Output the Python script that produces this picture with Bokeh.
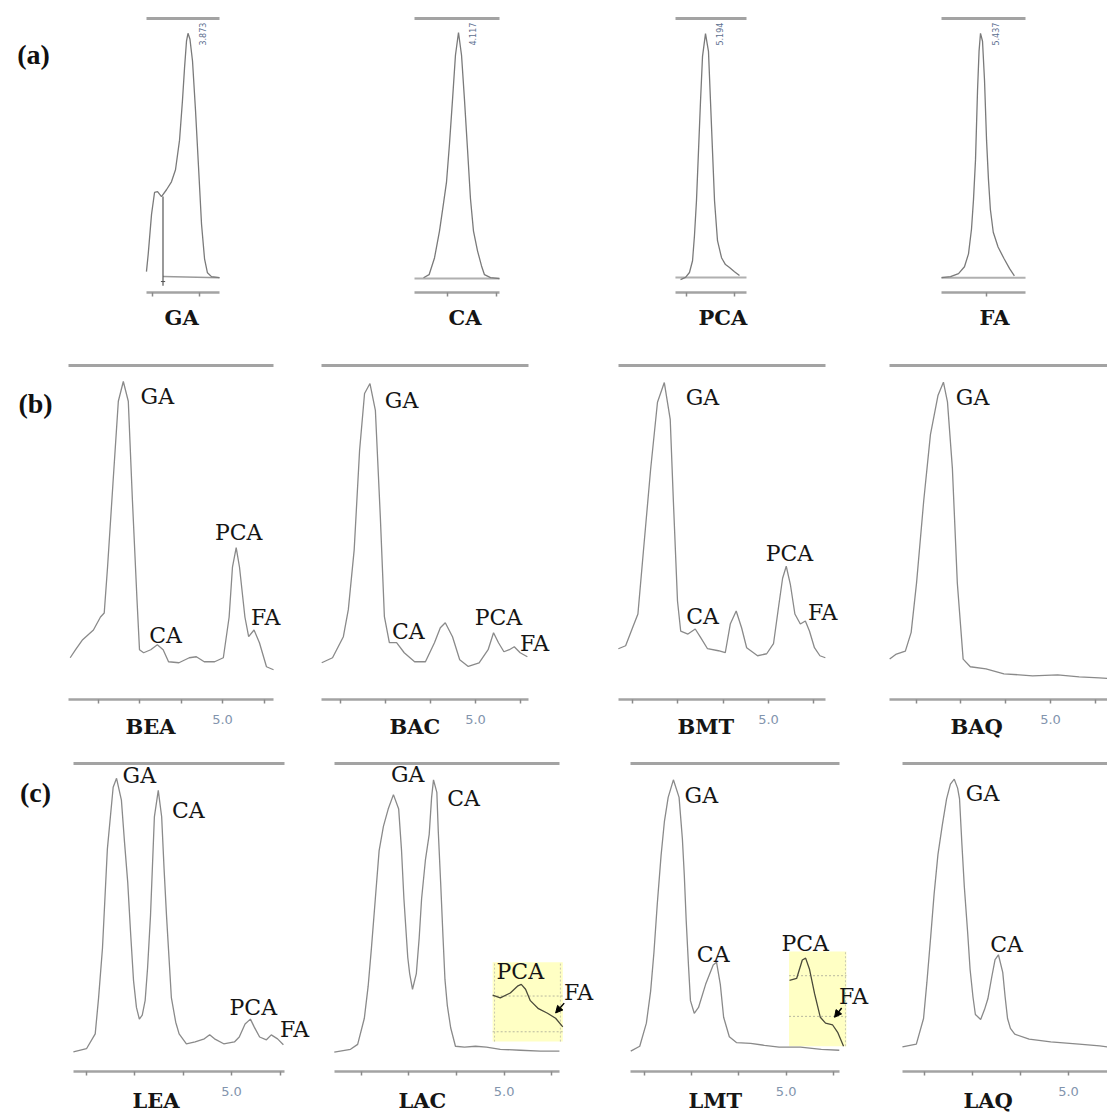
import math
from bokeh.plotting import figure
from bokeh.layouts import column, row
from bokeh.models import LinearAxis, FixedTicker, Label, Arrow, NormalHead, Range1d, Title
from bokeh.embed import file_html
from bokeh.resources import INLINE

# ---------------- (a) standards : retention time (min) / relative intensity ----------------
GA_std_t = [3.431, 3.45, 3.485, 3.517, 3.549, 3.591, 3.644, 3.697, 3.74, 3.783, 3.814, 3.836, 3.857,
            3.873, 3.894, 3.921, 3.953, 3.985, 4.017, 4.049, 4.08, 4.123, 4.208]
GA_std_I = [7.6, 14.1, 28.5, 36.5, 36.8, 35.0, 37.5, 40.4, 44.8, 55.6, 70.0, 81.9, 91.7,
            94.6, 92.4, 84.5, 66.4, 45.8, 24.9, 12.3, 7.2, 5.8, 5.4]
CA_std_t = [3.76, 3.817, 3.872, 3.923, 3.964, 3.995, 4.025, 4.056, 4.086, 4.117, 4.148, 4.178, 4.209,
            4.239, 4.27, 4.311, 4.352, 4.382, 4.444, 4.535]
CA_std_I = [5.4, 6.5, 12.6, 22.4, 32.5, 40.4, 54.2, 70.4, 86.6, 94.9, 86.6, 70.4, 52.3,
            34.3, 22.4, 15.2, 9.7, 6.5, 5.4, 5.1]
PCA_std_t = [4.934, 4.986, 5.027, 5.059, 5.079, 5.1, 5.121, 5.142, 5.163, 5.194, 5.225, 5.246, 5.267,
             5.288, 5.319, 5.361, 5.402, 5.444, 5.496, 5.548]
PCA_std_I = [4.7, 5.5, 7.3, 11.6, 20.7, 33.5, 51.6, 69.8, 86.2, 94.5, 88.0, 69.8, 51.6,
             33.5, 18.9, 12.7, 10.2, 9.1, 7.6, 6.2]
FA_std_t = [5.031, 5.125, 5.208, 5.27, 5.312, 5.343, 5.364, 5.385, 5.406, 5.422, 5.437, 5.458, 5.479,
            5.5, 5.52, 5.54, 5.57, 5.62, 5.683, 5.74, 5.79]
FA_std_I = [5.4, 5.8, 6.9, 9.4, 14.1, 23.1, 33.9, 48.4, 73.6, 88.1, 94.6, 91.7, 77.3,
            55.6, 41.2, 30.3, 22.0, 16.6, 12.3, 8.7, 6.1]
std_names = ["GA", "CA", "PCA", "FA"]
std_rt = ["3.873", "4.117", "5.194", "5.437"]

# ---------------- (b) B extracts ----------------
BEA_t = [1.33, 1.46, 1.63, 1.89, 2.06, 2.15, 2.23, 2.36, 2.49, 2.61, 2.73, 2.83, 2.94, 3.0, 3.10, 3.27,
         3.43, 3.57, 3.70, 3.95, 4.20, 4.37, 4.56, 4.81, 5.02, 5.16, 5.24, 5.33, 5.41, 5.54, 5.63, 5.76,
         5.89, 6.06, 6.23]
BEA_I = [12.5, 14.9, 17.9, 20.8, 24.7, 25.9, 39.6, 64.6, 89.3, 95.2, 89.3, 59.5, 29.8, 14.9, 14.0, 14.9,
         16.4, 14.9, 11.3, 11.0, 12.5, 12.8, 11.3, 11.3, 12.5, 24.7, 39.6, 45.5, 39.6, 24.7, 18.8, 20.8,
         17.0, 9.8, 8.9]
BAC_t = [1.59, 1.83, 2.07, 2.18, 2.31, 2.43, 2.54, 2.66, 2.78, 2.89, 2.98, 3.09, 3.25, 3.42, 3.65, 3.89,
         4.09, 4.22, 4.33, 4.49, 4.65, 4.84, 5.08, 5.28, 5.40, 5.51, 5.63, 5.75, 5.86, 5.99, 6.15]
BAC_I = [11.0, 12.5, 18.8, 26.9, 44.8, 74.6, 91.6, 94.6, 86.6, 54.6, 24.8, 17.0, 17.0, 14.0, 11.3, 11.3,
         17.0, 21.5, 23.0, 18.8, 11.9, 9.9, 11.0, 14.9, 20.0, 17.0, 14.3, 14.9, 15.8, 14.0, 12.8]
BMT_t = [1.70, 1.86, 2.01, 2.13, 2.25, 2.41, 2.56, 2.71, 2.84, 2.91, 3.0, 3.07, 3.23, 3.39, 3.51, 3.66,
         3.90, 4.05, 4.16, 4.29, 4.41, 4.52, 4.76, 4.96, 5.11, 5.23, 5.31, 5.39, 5.48, 5.58, 5.70, 5.81,
         5.90, 6.01, 6.13, 6.25]
BMT_I = [15.2, 16.1, 21.4, 25.6, 44.3, 69.0, 89.0, 94.9, 83.9, 59.2, 29.5, 20.5, 19.6, 21.1, 18.5, 15.2,
         14.6, 14.0, 22.6, 26.5, 21.4, 15.5, 13.1, 13.7, 16.7, 28.6, 36.3, 39.9, 34.5, 25.6, 22.6, 23.5,
         20.5, 15.5, 13.1, 12.5]
BAQ_t = [1.41, 1.56, 1.76, 1.89, 2.01, 2.17, 2.32, 2.49, 2.61, 2.70, 2.81, 2.92, 3.05, 3.21, 3.56, 3.96,
         4.60, 5.16, 5.64, 6.09, 6.27]
BAQ_I = [12.1, 13.6, 14.5, 20.1, 34.9, 59.5, 79.3, 91.1, 95.0, 89.1, 69.2, 34.9, 12.1, 9.8, 9.2, 7.7,
         7.1, 7.4, 6.8, 6.5, 6.3]

# ---------------- (c) L extracts ----------------
LEA_t = [1.74, 2.01, 2.19, 2.26, 2.34, 2.44, 2.56, 2.63, 2.73, 2.79, 2.86, 2.92, 2.98, 3.04, 3.10, 3.16,
         3.22, 3.27, 3.33, 3.41, 3.49, 3.56, 3.61, 3.66, 3.76, 3.85, 3.92, 4.07, 4.25, 4.44, 4.55, 4.65,
         4.84, 5.06, 5.16, 5.28, 5.39, 5.47, 5.58, 5.72, 5.82, 5.95, 6.07]
LEA_I = [6.4, 7.4, 12.2, 24.0, 40.1, 72.1, 92.3, 95.2, 88.1, 75.3, 61.5, 44.9, 29.5, 20.8, 17.0, 18.3,
         23.1, 33.7, 50.6, 82.7, 91.3, 82.7, 65.7, 50.6, 24.0, 16.0, 12.2, 9.0, 9.6, 10.6, 11.9, 10.6,
         9.0, 9.6, 11.2, 15.4, 17.0, 14.4, 11.2, 10.3, 11.9, 10.6, 8.7]
LAC_t = [1.44, 1.78, 1.93, 2.07, 2.15, 2.22, 2.30, 2.38, 2.47, 2.57, 2.68, 2.79, 2.85, 2.90, 2.98, 3.02,
         3.08, 3.16, 3.22, 3.27, 3.35, 3.43, 3.48, 3.52, 3.59, 3.62, 3.67, 3.72, 3.76, 3.81, 3.88, 3.98,
         4.17, 4.40, 4.63, 4.92, 5.34, 5.76, 6.16]
LAC_I = [6.3, 7.2, 8.8, 17.3, 27.7, 40.3, 56.0, 71.7, 79.6, 85.2, 89.9, 85.2, 71.7, 56.0, 37.1, 31.8,
         26.7, 31.8, 43.4, 56.0, 68.6, 77.0, 89.0, 94.7, 90.6, 78.0, 61.3, 43.4, 29.9, 21.4, 14.2, 8.2,
         7.9, 8.2, 7.9, 7.2, 6.9, 6.6, 6.6]
LAC_zoom_t = [4.76, 4.92, 5.13, 5.28, 5.36, 5.45, 5.55, 5.72, 5.91, 6.08, 6.23]
LAC_zoom_I = [24.8, 23.9, 25.5, 27.7, 28.3, 26.7, 23.0, 20.4, 18.9, 17.3, 14.5]
LMT_t = [1.72, 1.91, 2.05, 2.14, 2.21, 2.28, 2.36, 2.43, 2.51, 2.62, 2.74, 2.81, 2.85, 2.89, 2.94, 2.98,
         3.06, 3.15, 3.30, 3.46, 3.53, 3.61, 3.68, 3.80, 3.95, 4.25, 4.54, 4.85, 5.30, 5.74, 6.12]
LMT_I = [6.6, 8.2, 15.7, 26.1, 38.7, 54.4, 70.1, 81.1, 89.0, 94.7, 89.0, 75.5, 63.8, 49.1, 34.0, 23.0,
         18.9, 20.8, 28.3, 34.6, 35.5, 28.3, 17.6, 11.3, 9.4, 9.1, 8.5, 7.9, 7.9, 7.2, 6.9]
LMT_zoom_t = [5.07, 5.22, 5.34, 5.41, 5.49, 5.60, 5.72, 5.83, 5.98, 6.09, 6.21]
LMT_zoom_I = [29.6, 30.2, 36.2, 36.8, 33.3, 25.2, 17.6, 15.7, 15.1, 12.6, 8.2]
LAQ_t = [1.54, 1.83, 1.98, 2.05, 2.13, 2.20, 2.28, 2.37, 2.46, 2.54, 2.62, 2.69, 2.73, 2.78, 2.83, 2.90,
         2.95, 3.01, 3.06, 3.17, 3.25, 3.32, 3.40, 3.47, 3.54, 3.63, 3.68, 3.73, 3.79, 3.88, 4.18, 4.63,
         5.22, 5.65, 5.81]
LAQ_I = [8.0, 8.9, 17.2, 29.0, 43.9, 57.6, 70.4, 79.9, 88.5, 93.3, 94.9, 92.0, 88.5, 73.6, 59.9, 44.9,
         33.1, 24.2, 18.5, 16.9, 20.1, 23.6, 30.6, 36.3, 37.9, 32.2, 24.2, 17.2, 14.0, 12.1, 10.5, 9.6,
         8.9, 8.3, 8.0]

TIME_TICKS = [2, 3, 4, 5, 6]

AX = "#a3a3a3"
CURVE = "#8a8a8a"
SERIF = "DejaVu Serif"
TXT = "#151515"


def panel(w, h, mbt, mbb, xr, bounds, ticks, show5=True, standoff=9):
    p = figure(width=w, height=h, x_range=Range1d(*xr), y_range=Range1d(0, 100),
               output_backend="svg", toolbar_location=None,
               x_axis_location=None, y_axis_location=None,
               min_border_left=0, min_border_right=0, min_border_top=mbt, min_border_bottom=mbb)
    p.outline_line_color = None
    p.grid.grid_line_color = None
    p.background_fill_color = "white"
    p.border_fill_color = "white"
    overrides = {float(t): ("5.0" if (show5 and abs(t - 5) < 1e-9) else "") for t in ticks}
    below = LinearAxis(ticker=FixedTicker(ticks=[float(t) for t in ticks]), bounds=bounds,
                       axis_line_color=AX, axis_line_width=2.5,
                       major_tick_line_color="#8a8a8a", major_tick_line_width=1.5,
                       major_tick_in=0, major_tick_out=4,
                       minor_tick_line_color=None, minor_tick_out=0, minor_tick_in=0,
                       major_label_standoff=standoff if show5 else 0,
                       major_label_text_color="#8294ad", major_label_text_font="DejaVu Sans",
                       major_label_text_font_size="13px" if show5 else "0px",
                       major_label_overrides=overrides)
    p.add_layout(below, "below")
    above = LinearAxis(ticker=FixedTicker(ticks=[]), bounds=bounds,
                       axis_line_color=AX, axis_line_width=3,
                       major_tick_in=0, major_tick_out=0, minor_tick_in=0, minor_tick_out=0,
                       major_label_standoff=0, major_label_text_font_size="0px")
    p.add_layout(above, "above")
    return p


def name_title(p, text, offset, standoff):
    kw = dict(text=text, align="left", offset=offset, vertical_align="top",
              text_font=SERIF, text_font_size="21px", text_font_style="bold", text_color=TXT)
    try:
        t = Title(standoff=standoff, **kw)
    except Exception:
        t = Title(standoff=0, **kw)
    p.add_layout(t, "below")


def lab(p, x, y, text, size="22px", bold=False, font=SERIF, color=TXT, align="center", angle=0.0):
    p.add_layout(Label(x=x, y=y, text=text, text_font=font, text_font_size=size,
                       text_font_style="bold" if bold else "normal", text_color=color,
                       text_align=align, text_baseline="middle", angle=angle))


def curve(p, t, i, color=CURVE, width=1.3):
    p.line(t, i, line_color=color, line_width=width)


# ================= row (a) =================
a_cfg = [
    # w, h, mbt, mbb, x-range, bounds, ticks, data, name offset, rt label x
    (300, 340, 17, 46, (1.8783, 5.0698), (3.4315, 4.208), [3.5, 4.0], (GA_std_t, GA_std_I), 164, 4.027),
    (280, 340, 18, 45, (2.5048, 5.3619), (3.668, 4.535), [4.0, 4.5], (CA_std_t, CA_std_I), 148, 4.26),
    (280, 340, 17, 48, (3.8919, 6.8086), (4.881, 5.621), [5.0, 5.5], (PCA_std_t, PCA_std_I), 118, 5.345),
    (247, 340, 17, 46, (4.187, 6.7599), (5.031, 5.906), [5.5], (FA_std_t, FA_std_I), 119, 5.593),
]
row_a = []
base_a = [5.4, 5.1, 5.5, 5.4]
for k, (w, h, mbt, mbb, xr, bnd, ticks, (t, i), noff, rtx) in enumerate(a_cfg):
    p = panel(w, h, mbt, mbb, xr, bnd, ticks, show5=False)
    if k == 0:
        p.segment(x0=[3.607], y0=[5.8], x1=[bnd[1]], y1=[base_a[k]], line_color="#9a9a9a", line_width=1.5)
        p.segment(x0=[3.607], y0=[35.0], x1=[3.607], y1=[2.5], line_color="#555555", line_width=1.2)
        p.segment(x0=[3.585], y0=[4.0], x1=[3.63], y1=[4.0], line_color="#555555", line_width=1.0)
    else:
        p.segment(x0=[bnd[0]], y0=[base_a[k]], x1=[bnd[1]], y1=[base_a[k]], line_color="#b0b0b0", line_width=2)
    curve(p, t, i, color="#7a7a7a", width=1.3)
    name_title(p, std_names[k], noff, 16)
    lab(p, rtx, 98.5, std_rt[k], size="8px", font="DejaVu Sans", color="#5d6f8f", align="right",
        angle=math.pi / 2)
    if k == 0:
        lab(p, 2.229, 87.0, "(a)", size="28px", bold=True, font="Liberation Serif", color="#111111")
    row_a.append(p)

# ================= row (b) =================
b_cfg = [
    (300, 405, 24, 45, (-0.3494, 6.8795), (1.289, 6.229), (BEA_t, BEA_I), "BEA", 125,
     [("GA", 3.43, 90.8), ("CA", 3.63, 19.3), ("PCA", 5.39, 50.0), ("FA", 6.04, 24.7)]),
    (280, 405, 25, 45, (1.1197, 7.3282), (1.585, 6.175), (BAC_t, BAC_I), "BAC", 89,
     [("GA", 3.36, 89.6), ("CA", 3.51, 20.3), ("PCA", 5.51, 24.5), ("FA", 6.31, 16.7)]),
    (280, 405, 23, 46, (0.8681, 7.0220), (1.703, 6.253), (BMT_t, BMT_I), "BMT", 97,
     [("GA", 3.55, 90.5), ("CA", 3.55, 25.0), ("PCA", 5.46, 43.8), ("FA", 6.19, 25.9)]),
    (247, 405, 23, 44, (0.7589, 6.2723), (1.406, 6.2723), (BAQ_t, BAQ_I), "BAQ", 90,
     [("GA", 3.26, 90.5)]),
]
row_b = []
for k, (w, h, mbt, mbb, xr, bnd, (t, i), name, noff, peaks) in enumerate(b_cfg):
    ticks = [tt for tt in TIME_TICKS if bnd[0] <= tt <= bnd[1]]
    p = panel(w, h, mbt, mbb, xr, bnd, ticks, show5=True, standoff=11)
    curve(p, t, i)
    for txt, px, py in peaks:
        lab(p, px, py, txt)
    name_title(p, name, noff, -26)
    if k == 0:
        lab(p, 0.494, 88.7, "(b)", size="28px", bold=True, font="Liberation Serif", color="#111111")
    row_b.append(p)

# ================= row (c) =================
c_cfg = [
    (318, 371, 18, 41, (0.2371, 6.7938), (1.742, 6.093), (LEA_t, LEA_I), "LEA", 132,
     [("GA", 3.10, 96.0), ("CA", 4.11, 84.9), ("PCA", 5.45, 20.8), ("FA", 6.30, 13.5)]),
    (292, 371, 15, 38, (1.1090, 7.2306), (1.444, 6.161), (LAC_t, LAC_I), "LAC", 80,
     [("GA", 2.98, 96.5), ("CA", 4.15, 88.5)]),
    (270, 371, 10, 43, (1.2932, 6.9895), (1.715, 6.124), (LMT_t, LMT_I), "LMT", 78,
     [("GA", 3.21, 89.6), ("CA", 3.46, 38.1)]),
    (227, 371, 12, 45, (1.0833, 5.8125), (1.542, 5.8125), (LAQ_t, LAQ_I), "LAQ", 83,
     [("GA", 3.21, 90.4), ("CA", 3.71, 41.1)]),
]
row_c = []
for k, (w, h, mbt, mbb, xr, bnd, (t, i), name, noff, peaks) in enumerate(c_cfg):
    ticks = [tt for tt in TIME_TICKS if bnd[0] <= tt <= bnd[1]]
    p = panel(w, h, mbt, mbb, xr, bnd, ticks, show5=True, standoff=11)
    if name == "LAC":
        p.quad(left=[4.76], right=[6.23], bottom=[9.7], top=[35.5], fill_color="#ffffc4",
               line_color=None)
        p.segment(x0=[4.76, 4.76], y0=[24.5, 12.9], x1=[6.23, 6.23], y1=[24.5, 12.9],
                  line_color="#b8b8a0", line_dash="2 2", line_width=1)
        p.segment(x0=[4.80, 6.18], y0=[9.7, 9.7], x1=[4.80, 6.18], y1=[35.5, 35.5],
                  line_color="#c8c8b0", line_dash="2 2", line_width=1)
        curve(p, LAC_zoom_t, LAC_zoom_I, color="#4a4a3a", width=1.3)
        p.add_layout(Arrow(end=NormalHead(size=7, fill_color="black", line_color="black"),
                           x_start=6.26, y_start=22.2, x_end=6.08, y_end=19.0,
                           line_color="black", line_width=1.5))
        lab(p, 5.34, 32.4, "PCA")
        lab(p, 6.56, 25.8, "FA")
    if name == "LMT":
        p.quad(left=[5.06], right=[6.27], bottom=[8.2], top=[39.0], fill_color="#ffffc4",
               line_color=None)
        p.segment(x0=[5.06, 5.06], y0=[31.1, 17.9], x1=[6.27, 6.27], y1=[31.1, 17.9],
                  line_color="#b8b8a0", line_dash="2 2", line_width=1)
        p.segment(x0=[6.25], y0=[8.2], x1=[6.25], y1=[39.0],
                  line_color="#c8c8b0", line_dash="2 2", line_width=1)
        curve(p, LMT_zoom_t, LMT_zoom_I, color="#4a4a3a", width=1.3)
        p.add_layout(Arrow(end=NormalHead(size=7, fill_color="black", line_color="black"),
                           x_start=6.17, y_start=20.6, x_end=6.02, y_end=17.6,
                           line_color="black", line_width=1.5))
        lab(p, 5.40, 41.5, "PCA")
        lab(p, 6.42, 24.2, "FA")
    curve(p, t, i)
    for txt, px, py in peaks:
        lab(p, px, py, txt)
    name_title(p, name, noff, -22)
    if k == 0:
        lab(p, 0.959, 90.7, "(c)", size="28px", bold=True, font="Liberation Serif", color="#111111")
    row_c.append(p)

layout = column(row(*row_a), row(*row_b), row(*row_c))
open("out.html", "w").write(file_html(layout, INLINE))
